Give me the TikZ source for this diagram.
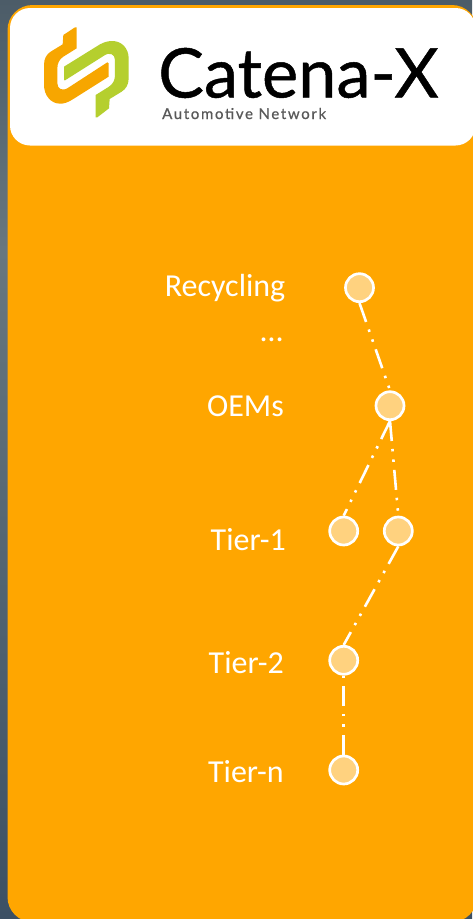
\documentclass[tikz,border=0pt]{standalone}
\usepackage{fontspec}
\setmainfont{Carlito}
\newfontfamily\logofont[FakeBold=0.7]{Lato}
\newfontfamily\subfont[FakeBold=0.7,LetterSpace=11]{Lato}
\usetikzlibrary{positioning}
\definecolor{panelorange}{HTML}{FFA600}
\definecolor{tierfill}{HTML}{FFD27F}
\definecolor{logoorange}{HTML}{F7A600}
\definecolor{logogreen}{HTML}{B5CF2E}
\definecolor{slatetop}{HTML}{4C5C68}
\definecolor{slatemid}{HTML}{68777F}
\definecolor{slatebottom}{HTML}{3C5064}
\tikzset{
tier/.style = {draw=white, fill=tierfill, circle, line width=2.7pt, minimum size=28pt, inner sep=0pt},
tierlabel/.style = {anchor=base east, text=white, inner sep=0pt, font=\fontsize{32}{32}\selectfont},
supply/.style = {draw=white, line width=2.6pt, dash pattern=on 20pt off 8pt on 2.5pt off 8pt on 2.5pt off 8pt}
}
\begin{document}
\begin{tikzpicture}[x=1pt, y=-1pt]
\useasboundingbox (0,0) rectangle (472,919);
\shade[top color=slatetop, bottom color=slatemid] (0,0) rectangle (472,250);
\shade[top color=slatemid, bottom color=slatebottom] (0,250) rectangle (472,919);
\fill[panelorange, rounded corners=25pt] (7.5,5) rectangle (477,922);
\fill[white, rounded corners=20pt] (10,8) rectangle (475.5,145.5);
% logo
\begin{scope}[shift={(30,15)}, scale=1/3]
\fill[logoorange] (140,37) -- (140,100) -- (100,125) .. controls (88,133) and (82,145) .. (82,160) -- (82,205) .. controls (82,222) and (98,230) .. (115,218) -- (232,142) -- (236,145) -- (236,185) -- (130,252) .. controls (112,264) and (100,266) .. (90,266) .. controls (62,266) and (42,240) .. (42,210) -- (42,150) .. controls (42,130) and (50,118) .. (62,110) -- (98,88) -- (100,60) -- (135,37) -- cycle;
\fill[logogreen] (197,307) -- (197,240) -- (237,215) .. controls (249,207) and (255,195) .. (255,180) -- (255,135) .. controls (255,118) and (239,110) .. (222,122) -- (105,196) -- (102,195) -- (102,155) -- (210,88) .. controls (225,80) and (237,78) .. (247,78) .. controls (275,78) and (296,100) .. (296,130) -- (296,190) .. controls (296,210) and (287,222) .. (275,230) -- (239,252) -- (237,280) -- (202,307) -- cycle;
\end{scope}
\node[anchor=base west, inner sep=0pt, text=black, font=\logofont\fontsize{68.5}{68}\selectfont] (catena) at (158,97.5) {Catena-X};
\node[anchor=base west, inner sep=0pt, text=black!65, font=\subfont\fontsize{15}{15}\selectfont] (network) at (162,119) {Automotive Network};
% tiers
\node[tier] (recycling) at (359.5,287.7) {};
\node[tier] (oem) at (390,405.7) {};
\node[tier] (tierone) at (343.7,531) {};
\node[tier] (tieroneb) at (398.3,531) {};
\node[tier] (tiertwo) at (343.7,660.3) {};
\node[tier] (tiern) at (343.7,770) {};
\node[tierlabel] (lrecycling) at (285.5,296) {Recycling};
\node[tierlabel] (ldots) at (283,341) {…};
\node[tierlabel] (loem) at (284,416) {OEMs};
\node[tierlabel] (ltierone) at (286,550) {Tier-1};
\node[tierlabel] (ltiertwo) at (284,673) {Tier-2};
\node[tierlabel] (ltiern) at (284,782) {Tier-n};
\draw[supply] (recycling.south) -- (oem.north);
\draw[supply] (oem.south) -- (tierone.north);
\draw[supply] (oem.south) -- (tieroneb.north);
\draw[supply] (tieroneb.south) -- (tiertwo.north);
\draw[supply] (tiern.north) -- (tiertwo.south);
\end{tikzpicture}
\end{document}
